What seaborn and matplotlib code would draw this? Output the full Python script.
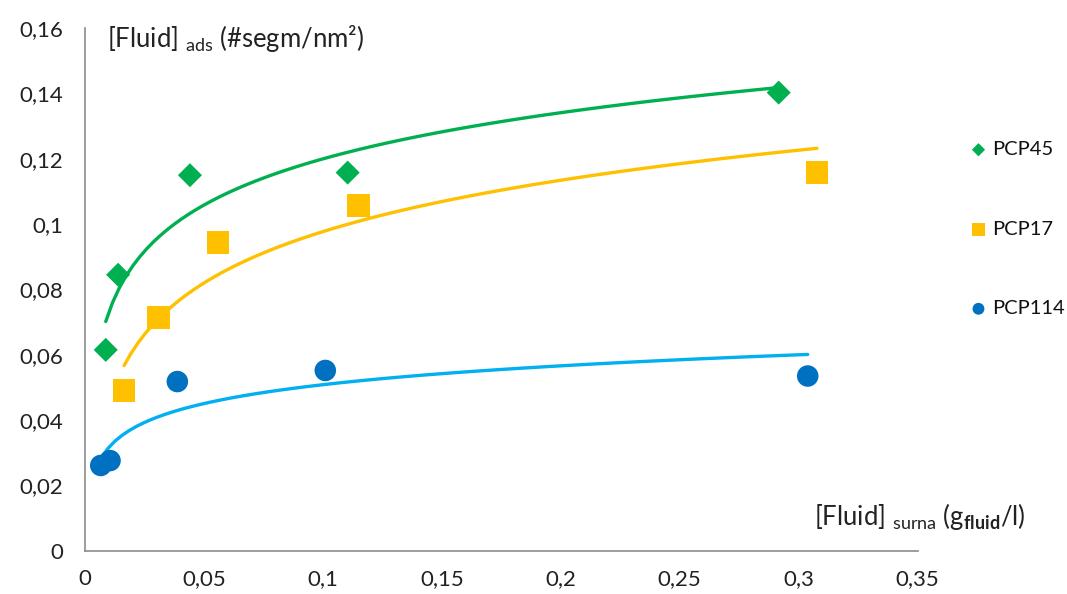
import matplotlib
matplotlib.use("Agg")
import matplotlib.pyplot as plt
import seaborn as sns
import pandas as pd

# data
pcp45_x = [0.0087, 0.0139, 0.0441, 0.1104, 0.2916]
pcp45_y = [0.0615, 0.0845, 0.1150, 0.1158, 0.1403]
pcp17_x = [0.0164, 0.0310, 0.0559, 0.1150, 0.3077]
pcp17_y = [0.0490, 0.0715, 0.0945, 0.1057, 0.1158]
pcp114_x = [0.0066, 0.0105, 0.0388, 0.1010, 0.3038]
pcp114_y = [0.0261, 0.0276, 0.0518, 0.0552, 0.0535]

series_names = ["PCP45", "PCP17", "PCP114"]
marker_colors = ["#00B050", "#FFC000", "#0070C0"]
line_colors = ["#00B050", "#FFC000", "#00B0F0"]
markers = ["D", "s", "o"]
marker_sizes = [150, 270, 240]

x_ticks = [0, 0.05, 0.1, 0.15, 0.2, 0.25, 0.3, 0.35]
y_ticks = [0, 0.02, 0.04, 0.06, 0.08, 0.1, 0.12, 0.14, 0.16]

df = pd.concat([
    pd.DataFrame({"x": pcp45_x, "y": pcp45_y, "serie": "PCP45"}),
    pd.DataFrame({"x": pcp17_x, "y": pcp17_y, "serie": "PCP17"}),
    pd.DataFrame({"x": pcp114_x, "y": pcp114_y, "serie": "PCP114"}),
])

sns.set_style("white")
plt.rcParams["font.family"] = ["Lato", "DejaVu Sans"]
plt.rcParams["mathtext.fontset"] = "custom"
plt.rcParams["mathtext.rm"] = "Lato"
plt.rcParams["mathtext.bf"] = "Lato:bold"

fig = plt.figure(figsize=(10.67, 5.94), dpi=100)
ax = fig.add_axes([0.0797, 0.0729, 0.7803, 0.8795])

for name, mc, lc, m, s in zip(series_names, marker_colors, line_colors, markers, marker_sizes):
    sub = df[df["serie"] == name]
    # logarithmic trend line, like Excel's
    sns.regplot(data=sub, x="x", y="y", logx=True, ci=None, scatter=False,
                truncate=True, color=lc, line_kws={"lw": 2.4}, ax=ax)
    sns.scatterplot(data=sub, x="x", y="y", marker=m, s=s, color=mc,
                    edgecolor="none", label=name, ax=ax, zorder=3)

ax.set_xlim(0, 0.35)
ax.set_ylim(0, 0.16)
ax.set_xticks(x_ticks)
ax.set_yticks(y_ticks)
ax.set_xticklabels([("%g" % v).replace(".", ",") for v in x_ticks])
ax.set_yticklabels([("%g" % v).replace(".", ",") for v in y_ticks])
ax.set_xlabel("")
ax.set_ylabel("")

for side in ["top", "right"]:
    ax.spines[side].set_visible(False)
for side in ["left", "bottom"]:
    ax.spines[side].set_color("#8C8C8C")
    ax.spines[side].set_linewidth(1.2)
ax.tick_params(axis="both", direction="out", length=6, width=1.2, color="#8C8C8C",
               labelsize=16, labelcolor="#222222")
ax.tick_params(axis="y", pad=10)
ax.tick_params(axis="x", pad=7)

ax.text(0.026, 0.98, r"[Fluid] $_{\mathregular{ads}}$ (#segm/nm²)", transform=ax.transAxes,
        fontsize=18.5, color="#222222", ha="left", va="center")
ax.text(1.13, 0.065, r"[Fluid] $_{\mathregular{surna}}$ (g$_{\mathbf{fluid}}$/l)",
        transform=ax.transAxes, fontsize=18.5, color="#222222", ha="right", va="center")

leg = ax.legend(loc="center left", bbox_to_anchor=(0.8925, 0.6145), bbox_transform=fig.transFigure,
                frameon=False, fontsize=14.5, markerscale=0.55, handlelength=0.8,
                handletextpad=0.3, labelspacing=3.1)
for t in leg.get_texts():
    t.set_color("#111111")

fig.savefig("out.png", dpi=100)
